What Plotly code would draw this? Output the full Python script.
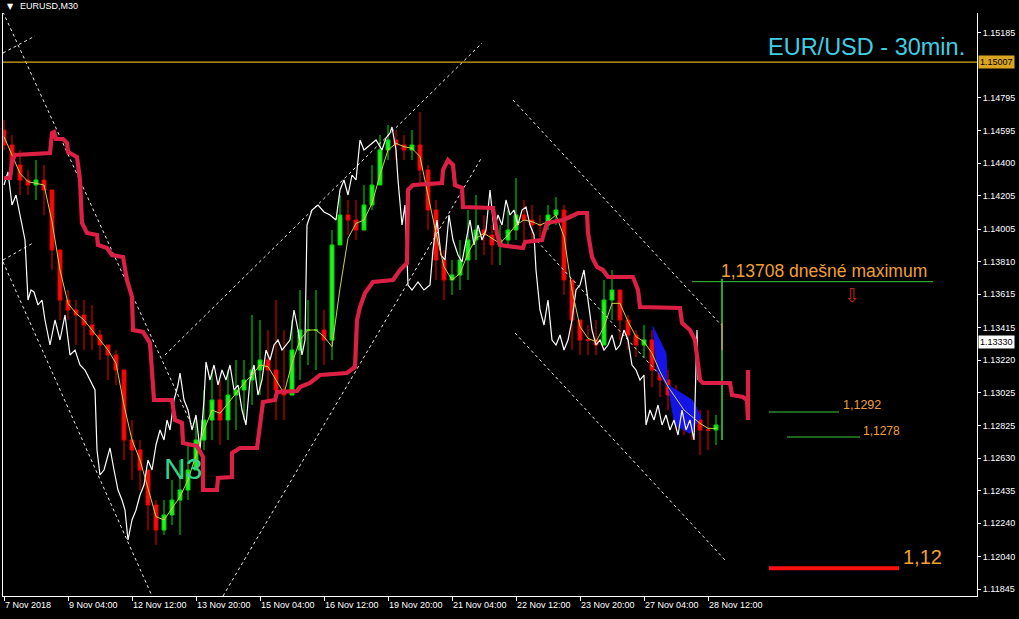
import plotly.graph_objects as go

# ---------------- data ----------------
x_tick_idx = [0, 64, 128, 192, 256, 320, 384, 448, 512, 576, 640, 704]
x_tick_text = ["7 Nov 2018", "9 Nov 04:00", "12 Nov 12:00", "13 Nov 20:00", "15 Nov 04:00",
               "16 Nov 12:00", "19 Nov 20:00", "21 Nov 04:00", "22 Nov 12:00", "23 Nov 20:00",
               "27 Nov 04:00", "28 Nov 12:00"]
y_tick_text = ["1.15185", "1.14795", "1.14595", "1.14400", "1.14205", "1.14005", "1.13810",
               "1.13615", "1.13415", "1.13220", "1.13025", "1.12825", "1.12630", "1.12435",
               "1.12240", "1.12040", "1.11845"]

bar_idx = list(range(0, 713, 8))
first_open = 1.14600
bar_high = [1.14660, 1.14570, 1.14480, 1.14360, 1.14420, 1.14390, 1.14180, 1.13700, 1.13640, 1.13580,
            1.13580, 1.13550, 1.13400, 1.13310, 1.13280, 1.13040, 1.12860, 1.12740, 1.12560, 1.12380,
            1.12380, 1.12500, 1.12620, 1.12710, 1.12860, 1.13040, 1.13160, 1.13100, 1.13160, 1.13220,
            1.13220, 1.13490, 1.13460, 1.13400, 1.13580, 1.13400, 1.13460, 1.13640, 1.13580, 1.13640,
            1.13520, 1.14000, 1.14210, 1.14180, 1.14180, 1.14270, 1.14390, 1.14570, 1.14630, 1.14600,
            1.14570, 1.14600, 1.14708, 1.14390, 1.14180, 1.13880, 1.13820, 1.13940, 1.14120, 1.14210,
            1.14090, 1.14030, 1.14030, 1.14120, 1.14312, 1.14180, 1.14150, 1.14090, 1.14150, 1.14198,
            1.14150, 1.13700, 1.13460, 1.13430, 1.13460, 1.13700, 1.13760, 1.13640, 1.13490, 1.13400,
            1.13430, 1.13400, 1.13310, 1.13160, 1.13070, 1.12980, 1.12950, 1.12920, 1.12920, 1.12890]
bar_low = [1.14480, 1.14330, 1.14210, 1.14210, 1.14180, 1.14090, 1.13760, 1.13460, 1.13460, 1.13310,
           1.13280, 1.13280, 1.13220, 1.13100, 1.13070, 1.12620, 1.12500, 1.12440, 1.12200, 1.12110,
           1.12170, 1.12230, 1.12170, 1.12380, 1.12560, 1.12680, 1.12740, 1.12710, 1.12740, 1.12800,
           1.12860, 1.12950, 1.13010, 1.12980, 1.12860, 1.12860, 1.13040, 1.13100, 1.13190, 1.13160,
           1.13190, 1.13220, 1.13940, 1.13970, 1.13940, 1.14030, 1.14120, 1.14300, 1.14420, 1.14420,
           1.14420, 1.14420, 1.14270, 1.14000, 1.13700, 1.13580, 1.13610, 1.13640, 1.13700, 1.13820,
           1.13850, 1.13790, 1.13790, 1.13910, 1.13940, 1.13940, 1.13940, 1.13958, 1.14000, 1.14030,
           1.13610, 1.13280, 1.13250, 1.13250, 1.13250, 1.13340, 1.13460, 1.13340, 1.13280, 1.13238,
           1.13238, 1.13058, 1.12998, 1.12920, 1.12800, 1.12770, 1.12740, 1.12650, 1.12680, 1.12710]
bar_close = [1.14510, 1.14390, 1.14300, 1.14270, 1.14300, 1.14240, 1.13880, 1.13580, 1.13520, 1.13490,
             1.13430, 1.13370, 1.13310, 1.13250, 1.13160, 1.12740, 1.12680, 1.12560, 1.12350, 1.12200,
             1.12290, 1.12380, 1.12440, 1.12560, 1.12740, 1.12860, 1.12980, 1.12860, 1.13010, 1.13040,
             1.13100, 1.13160, 1.13220, 1.13160, 1.13040, 1.13010, 1.13280, 1.13400, 1.13400, 1.13400,
             1.13340, 1.13910, 1.14090, 1.14060, 1.14000, 1.14150, 1.14270, 1.14480, 1.14540, 1.14510,
             1.14480, 1.14510, 1.14360, 1.14120, 1.13820, 1.13700, 1.13730, 1.13820, 1.13940, 1.14000,
             1.13970, 1.13910, 1.13940, 1.14000, 1.14090, 1.14060, 1.14030, 1.14030, 1.14090, 1.14120,
             1.13700, 1.13460, 1.13340, 1.13340, 1.13310, 1.13580, 1.13640, 1.13460, 1.13370, 1.13310,
             1.13340, 1.13160, 1.13100, 1.13010, 1.12950, 1.12890, 1.12860, 1.12800, 1.12800, 1.12830]
fast_ma = [1.14560, 1.14450, 1.14340, 1.14290, 1.14280, 1.14270, 1.14050, 1.13760, 1.13560, 1.13500,
           1.13460, 1.13400, 1.13340, 1.13280, 1.13200, 1.12950, 1.12740, 1.12620, 1.12450, 1.12280,
           1.12260, 1.12330, 1.12400, 1.12500, 1.12650, 1.12800, 1.12920, 1.12900, 1.12960, 1.13020,
           1.13080, 1.13130, 1.13190, 1.13180, 1.13100, 1.13020, 1.13200, 1.13340, 1.13400, 1.13400,
           1.13360, 1.13300, 1.13650, 1.13950, 1.14040, 1.14060, 1.14160, 1.14330, 1.14480, 1.14520,
           1.14500, 1.14490, 1.14440, 1.14200, 1.13980, 1.13780, 1.13700, 1.13740, 1.13860, 1.13950,
           1.13980, 1.13950, 1.13920, 1.13970, 1.14030, 1.14060, 1.14050, 1.14030, 1.14050, 1.14090,
           1.13960, 1.13640, 1.13420, 1.13350, 1.13330, 1.13420, 1.13560, 1.13560, 1.13450, 1.13360,
           1.13330, 1.13260, 1.13150, 1.13060, 1.12990, 1.12920, 1.12880, 1.12840, 1.12810, 1.12810]

# current (last) bar
last_idx = 718
last_high = 1.13708
last_low = 1.12740
last_body = [1.13440, 1.13280]
last_price = 1.13330

# white overlay line
white_idx = [0, 4, 8, 12, 16, 21, 24, 27, 30, 34, 38, 41, 46, 51, 56, 61, 66, 71, 76, 81, 86, 91, 93, 96,
             100, 106, 110, 114, 118, 121, 124, 128, 132, 136, 140, 144, 148, 152, 156, 160, 163, 166,
             170, 174, 176, 180, 184, 188, 192, 196, 200, 202, 206, 210, 214, 218, 222, 226, 230, 234,
             238, 242, 246, 250, 254, 258, 262, 266, 270, 274, 278, 282, 286, 290, 294, 298, 301, 303,
             308, 314, 320, 326, 332, 336, 340, 344, 348, 352, 356, 360, 366, 372, 378, 382, 386, 388,
             392, 394, 398, 401, 404, 408, 414, 420, 426, 429, 433, 437, 441, 445, 449, 454, 458, 462,
             466, 470, 474, 478, 482, 486, 490, 494, 498, 502, 506, 510, 514, 518, 522, 526, 530, 532,
             536, 540, 544, 548, 552, 556, 560, 564, 568, 572, 576, 580, 584, 588, 592, 596, 600, 604,
             608, 612, 616, 620, 624, 628, 632, 636, 640, 642, 646, 650, 654, 658, 662, 666, 670, 674,
             678, 682, 686, 690, 693, 694]
white_val = [1.14270, 1.14348, 1.14150, 1.14210, 1.14090, 1.13940, 1.13580, 1.13640, 1.13628, 1.13550,
             1.13580, 1.13460, 1.13310, 1.13460, 1.13340, 1.13490, 1.13250, 1.13280, 1.13190, 1.13160,
             1.13100, 1.13040, 1.12680, 1.12530, 1.12560, 1.12692, 1.12560, 1.12440, 1.12380, 1.12320,
             1.12140, 1.12260, 1.12320, 1.12410, 1.12470, 1.12620, 1.12560, 1.12710, 1.12800, 1.12740,
             1.12860, 1.12800, 1.12980, 1.13070, 1.13142, 1.12980, 1.12920, 1.12800, 1.12890, 1.12680,
             1.12980, 1.13208, 1.13100, 1.13190, 1.13070, 1.13160, 1.13100, 1.13190, 1.13040, 1.13070,
             1.12920, 1.12830, 1.13100, 1.13190, 1.13010, 1.13100, 1.13280, 1.13220, 1.13310, 1.13340,
             1.13280, 1.13310, 1.13340, 1.13520, 1.13400, 1.13250, 1.13340, 1.14030, 1.14120, 1.14150,
             1.14108, 1.14090, 1.14060, 1.14240, 1.14300, 1.14210, 1.14330, 1.14300, 1.14540, 1.14480,
             1.14510, 1.14540, 1.14480, 1.14552, 1.14582, 1.14618, 1.14480, 1.14300, 1.14030, 1.14150,
             1.13670, 1.13640, 1.13688, 1.13640, 1.13670, 1.13880, 1.14060, 1.13850, 1.13820, 1.14090,
             1.13940, 1.13850, 1.13808, 1.13940, 1.14060, 1.13910, 1.14030, 1.13940, 1.14000, 1.14240,
             1.14000, 1.14090, 1.14030, 1.14180, 1.14090, 1.14120, 1.14030, 1.14120, 1.14138, 1.14030,
             1.13970, 1.13760, 1.13520, 1.13430, 1.13580, 1.13340, 1.13310, 1.13370, 1.13280, 1.13340,
             1.13460, 1.13640, 1.13670, 1.13760, 1.13580, 1.13400, 1.13310, 1.13340, 1.13280, 1.13310,
             1.13370, 1.13280, 1.13310, 1.13400, 1.13340, 1.13190, 1.13160, 1.13100, 1.13130, 1.12830,
             1.12920, 1.12860, 1.12950, 1.12830, 1.12890, 1.12800, 1.12860, 1.12770, 1.12920, 1.12800,
             1.12860, 1.12740, 1.13400, 1.13100]

# thick crimson step indicator
band_idx = [0, 6, 8, 11, 46, 48, 50, 52, 59, 63, 64, 73, 76, 78, 83, 93, 94, 103, 108, 119, 123, 128,
            129, 139, 146, 149, 150, 168, 171, 178, 179, 193, 199, 199, 213, 214, 228, 228, 236, 253,
            256, 259, 271, 273, 293, 296, 306, 316, 343, 351, 353, 356, 361, 369, 389, 396, 403, 404,
            409, 438, 439, 444, 449, 451, 458, 459, 489, 493, 496, 519, 521, 538, 543, 559, 566, 574,
            583, 584, 588, 593, 599, 604, 629, 634, 636, 676, 678, 686, 691, 694, 696, 699, 726, 728,
            739, 743, 744, 744]
band_val = [1.14312, 1.14312, 1.14408, 1.14450, 1.14462, 1.14582, 1.14588, 1.14546, 1.14546, 1.14522,
            1.14468, 1.14438, 1.14300, 1.14042, 1.13982, 1.13970, 1.13910, 1.13892, 1.13850, 1.13838,
            1.13700, 1.13598, 1.13400, 1.13388, 1.13322, 1.13100, 1.12980, 1.12980, 1.12860, 1.12842,
            1.12722, 1.12704, 1.12638, 1.12440, 1.12440, 1.12512, 1.12518, 1.12662, 1.12692, 1.12692,
            1.12818, 1.12968, 1.12980, 1.13028, 1.13034, 1.13058, 1.13082, 1.13130, 1.13142, 1.13178,
            1.13460, 1.13538, 1.13622, 1.13688, 1.13700, 1.13760, 1.13802, 1.14240, 1.14270, 1.14282,
            1.14360, 1.14420, 1.14390, 1.14270, 1.14252, 1.14138, 1.14132, 1.13982, 1.13910, 1.13892,
            1.13928, 1.13940, 1.14042, 1.14060, 1.14078, 1.14102, 1.14102, 1.13982, 1.13838, 1.13778,
            1.13760, 1.13718, 1.13718, 1.13640, 1.13538, 1.13532, 1.13442, 1.13400, 1.13340, 1.13202,
            1.13100, 1.13082, 1.13082, 1.13010, 1.12998, 1.12980, 1.12860, 1.13160]

# hand-drawn trend lines (start idx, start price, end idx, end price)
trend_lines = [
    (-1, 1.15308, 189, 1.12812),
    (-1, 1.13808, 148, 1.11804),
    (-1, 1.15062, 31, 1.15164),
    (-1, 1.13820, 29, 1.13922),
    (161, 1.13250, 478, 1.15122),
    (219, 1.11804, 478, 1.14438),
    (509, 1.14780, 719, 1.13418),
    (511, 1.13382, 721, 1.12020),
    (533, 1.13934, 656, 1.13130),
]

# blue shaded zones
blue_zone_1_idx = [649, 662, 663, 653, 649]
blue_zone_1_val = [1.13420, 1.13260, 1.13060, 1.13160, 1.13420]
blue_zone_2_idx = [664, 688, 697, 686, 671, 664]
blue_zone_2_val = [1.13070, 1.12980, 1.12880, 1.12780, 1.12830, 1.13070]

# levels
level_orange = 1.15007
level_high = 1.13690
level_high_span = (688, 929)
level_a = 1.12908
level_a_span = (765, 835)
level_b = 1.12758
level_b_span = (783, 856)
level_red = 1.11970
level_red_span = (765, 895)

# ---------------- figure ----------------
fig = go.Figure()

for (x0, y0, x1, y1) in trend_lines:
    fig.add_trace(go.Scatter(x=[x0, x1], y=[y0, y1], mode="lines",
                             line=dict(color="#e8e8e8", width=1, dash="dot"),
                             hoverinfo="skip", showlegend=False))

for xi, yi in [(blue_zone_1_idx, blue_zone_1_val), (blue_zone_2_idx, blue_zone_2_val)]:
    fig.add_trace(go.Scatter(x=xi, y=yi, mode="lines", fill="toself",
                             fillcolor="#1414e6", line=dict(color="#1414e6", width=1),
                             hoverinfo="skip", showlegend=False))

bar_open = [first_open] + bar_close[:-1]
assert len(bar_idx) == len(bar_high) == len(bar_low) == len(bar_close) == len(fast_ma)
assert len(white_idx) == len(white_val)
assert len(band_idx) == len(band_val)

fig.add_trace(go.Scatter(x=white_idx, y=white_val, mode="lines",
                         line=dict(color="#ffffff", width=1.2), hoverinfo="skip", showlegend=False))

fig.add_trace(go.Candlestick(x=bar_idx, open=bar_open, high=bar_high, low=bar_low, close=bar_close,
                             increasing=dict(line=dict(color="#00e000", width=1), fillcolor="#22ee22"),
                             decreasing=dict(line=dict(color="#ee0000", width=1), fillcolor="#ee1010"),
                             whiskerwidth=0, showlegend=False, hoverinfo="skip"))

fig.add_trace(go.Scatter(x=bar_idx, y=fast_ma, mode="lines",
                         line=dict(color="#c8d24a", width=1), hoverinfo="skip", showlegend=False))

fig.add_trace(go.Scatter(x=[last_idx, last_idx], y=[last_low, last_high], mode="lines",
                         line=dict(color="#33dd33", width=1.5), hoverinfo="skip", showlegend=False))
fig.add_trace(go.Scatter(x=[last_idx, last_idx], y=last_body, mode="lines",
                         line=dict(color="#c8a030", width=1.5), hoverinfo="skip", showlegend=False))

fig.add_trace(go.Scatter(x=band_idx, y=band_val, mode="lines",
                         line=dict(color="#dc1f45", width=4.2), hoverinfo="skip", showlegend=False))

# level lines
for lvl, span, col, w in [(level_high, level_high_span, "#3cc83c", 1),
                          (level_a, level_a_span, "#3cc83c", 1),
                          (level_b, level_b_span, "#3cc83c", 1),
                          (level_red, level_red_span, "#ff1010", 4)]:
    fig.add_trace(go.Scatter(x=list(span), y=[lvl, lvl], mode="lines",
                             line=dict(color=col, width=w), hoverinfo="skip", showlegend=False))

fig.add_shape(type="line", xref="paper", x0=0, x1=1, yref="y", y0=level_orange, y1=level_orange,
              line=dict(color="#daa520", width=1.2))

FONT = "Liberation Sans, Arial, sans-serif"
ORANGE = "#f0a030"

ann = [
    dict(x=715, y=1.13754, text="1,13708 dnešné maximum", size=17.5, color=ORANGE),
    dict(x=837, y=1.12950, text="1,1292", size=12.5, color=ORANGE),
    dict(x=857, y=1.12794, text="1,1278", size=12, color=ORANGE),
    dict(x=897, y=1.12038, text="1,12", size=20, color=ORANGE),
    dict(x=158, y=1.12572, text="N3", size=30, color="#36d28a"),
    dict(x=762, y=1.15098, text="EUR/USD - 30min.", size=23.5, color="#40cfe2"),
]
for a in ann:
    fig.add_annotation(x=a["x"], y=a["y"], xref="x", yref="y", text=a["text"], showarrow=False,
                       xanchor="left", yanchor="middle",
                       font=dict(family=FONT, size=a["size"], color=a["color"]))

fig.add_annotation(x=848, y=1.13610, xref="x", yref="y", text="⇩", showarrow=False,
                   font=dict(family="DejaVu Sans", size=19, color="#c82020"))

fig.add_annotation(xref="paper", yref="paper", x=0, y=1, xshift=2, yshift=7, xanchor="left",
                   yanchor="middle", text="▼", showarrow=False,
                   font=dict(family="DejaVu Sans", size=8, color="#ffffff"))
fig.add_annotation(xref="paper", yref="paper", x=0, y=1, xshift=15, yshift=7, xanchor="left",
                   yanchor="middle", text="EURUSD,M30", showarrow=False,
                   font=dict(family=FONT, size=9, color="#ffffff"))

# price labels on axis
fig.add_annotation(xref="paper", yref="y", x=1, y=level_orange, xanchor="left", yanchor="middle",
                   text="1.15007", showarrow=False, bgcolor="#daa520", borderpad=1, xshift=1,
                   font=dict(family=FONT, size=9, color="#000000"))
fig.add_annotation(xref="paper", yref="y", x=1, y=last_price, xanchor="left", yanchor="middle",
                   text="1.13330", showarrow=False, bgcolor="#ffffff", borderpad=1, xshift=1,
                   font=dict(family=FONT, size=9, color="#000000"))

fig.update_layout(
    width=1019, height=619,
    margin=dict(l=3, r=42, t=13, b=23),
    paper_bgcolor="#000000", plot_bgcolor="#000000",
    showlegend=False,
    font=dict(family=FONT, size=9, color="#ffffff"),
    xaxis=dict(range=[-1, 973], tickvals=x_tick_idx, ticktext=x_tick_text,
               showgrid=False, zeroline=False, showline=True, linecolor="#ffffff", linewidth=1,
               ticks="outside", ticklen=4, tickcolor="#ffffff", ticklabelposition="outside right",
               tickfont=dict(family=FONT, size=9, color="#ffffff"), rangeslider=dict(visible=False)),
    yaxis=dict(range=[1.11804, 1.15302], side="right",
               tickvals=[float(t) for t in y_tick_text], ticktext=y_tick_text,
               showgrid=False, zeroline=False, showline=True, mirror=True, linecolor="#ffffff",
               linewidth=1, ticks="outside", ticklen=3, tickcolor="#ffffff",
               tickfont=dict(family=FONT, size=9, color="#ffffff")),
)

fig.write_html("out.html", config={"displayModeBar": False},
               post_script="document.body.style.margin='0';document.body.style.background='#000';")
